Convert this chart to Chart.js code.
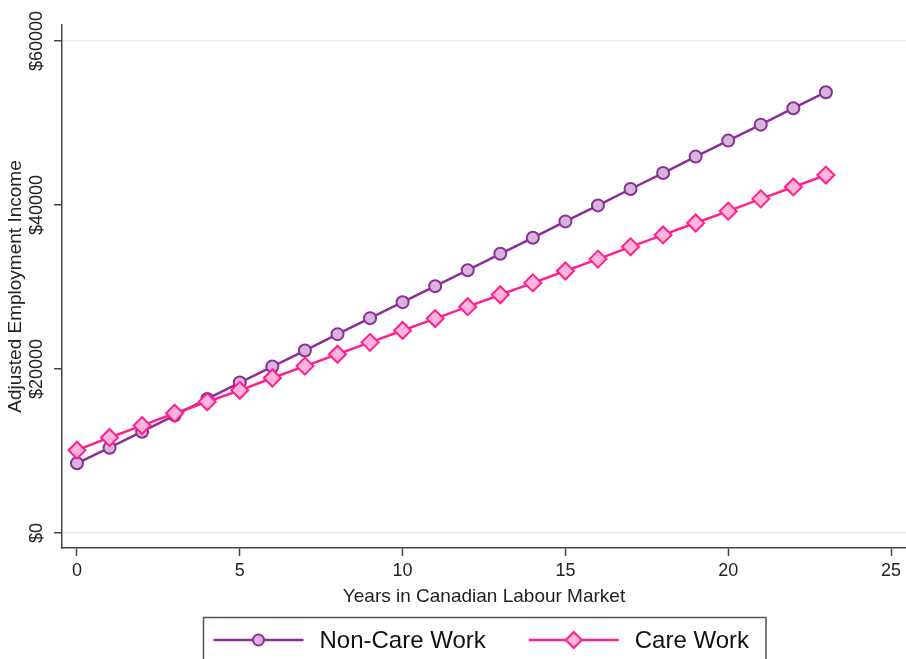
<!DOCTYPE html>
<html lang="en">
<head>
<meta charset="UTF-8">
<title>Adjusted Employment Income by Years in Canadian Labour Market</title>
<script src="https://cdn.jsdelivr.net/npm/chart.js@4.4.1/dist/chart.umd.min.js"></script>
<style>
  html, body { margin: 0; padding: 0; background: #fff; }
  #wrap { width: 906px; height: 659px; }
</style>
</head>
<body>
<div id="wrap"><canvas id="incomeChart" width="906" height="659"></canvas></div>
<script>
    // Years in the labour market (x values)
    var years = [0, 1, 2, 3, 4, 5, 6, 7, 8, 9, 10, 11, 12, 13, 14, 15, 16, 17, 18, 19, 20, 21, 22, 23];

    // Adjusted employment income
    var nonCareWork = [8500, 10400, 12350, 14350, 16350, 18350, 20300, 22250, 24250, 26200, 28150, 30100,
                       32050, 34050, 36000, 38000, 39950, 41950, 43900, 45900, 47850, 49800, 51800, 53750];
    var careWork = [10100, 11650, 13100, 14600, 16000, 17400, 18900, 20350, 21800, 23250, 24700, 26150,
                    27600, 29050, 30500, 31950, 33400, 34900, 36350, 37800, 39250, 40750, 42200, 43650];

    // Tick labels
    var xTicks = [0, 5, 10, 15, 20, 25];
    var yTicks = [0, 20000, 40000, 60000];
    var yGridAt = [0, 60000];

    var seriesNames = ['Non-Care Work', 'Care Work'];

    var font = '"Liberation Sans", Arial, sans-serif';
    var purple = '#8c2d98', purpleFill = '#d8b4da';
    var pink = '#ff1f8f', pinkFill = '#ffb5da';

    function toPoints(xs, ys) {
        return xs.map(function(x, i) { return {x: x, y: ys[i]}; });
    }

    function drawMarker(ctx, style, x, y, r, fill, stroke, w) {
        ctx.beginPath();
        if (style === 'circle') {
            ctx.arc(x, y, r, 0, Math.PI * 2);
        } else {
            ctx.moveTo(x, y - r);
            ctx.lineTo(x + r, y);
            ctx.lineTo(x, y + r);
            ctx.lineTo(x - r, y);
            ctx.closePath();
        }
        ctx.fillStyle = fill;
        ctx.fill();
        ctx.lineWidth = w;
        ctx.strokeStyle = stroke;
        ctx.stroke();
    }

    // Boxed legend under the x axis title, centred on the plot region
    var boxedLegend = {
        id: 'boxedLegend',
        afterDraw: function(chart) {
            var ctx = chart.ctx, area = chart.chartArea;
            var items = [
                {label: seriesNames[0], style: 'circle', r: 5.5, color: purple, fill: purpleFill},
                {label: seriesNames[1], style: 'diamond', r: 8, color: pink, fill: pinkFill}
            ];
            var sample = 90, gapText = 16, gapItem = 43, padL = 10, padR = 17;
            ctx.save();
            ctx.font = '24px ' + font;
            var total = padL + padR;
            items.forEach(function(it, i) {
                it.w = ctx.measureText(it.label).width;
                total += sample + gapText + it.w + (i ? gapItem : 0);
            });
            var left = Math.round((area.left + area.right) / 2 - total / 2) + 0.5;
            var top = area.bottom + 69.5;
            var cy = area.bottom + 92;
            ctx.strokeStyle = '#555';
            ctx.lineWidth = 1.5;
            ctx.strokeRect(left, top, total, 80);
            var x = left + padL;
            items.forEach(function(it, i) {
                if (i) x += gapItem;
                ctx.strokeStyle = it.color;
                ctx.lineWidth = 2.5;
                ctx.beginPath();
                ctx.moveTo(x, cy);
                ctx.lineTo(x + sample, cy);
                ctx.stroke();
                drawMarker(ctx, it.style, x + sample / 2, cy, it.r, it.fill, it.color, 2);
                ctx.fillStyle = '#111';
                ctx.textBaseline = 'middle';
                ctx.textAlign = 'left';
                ctx.fillText(it.label, x + sample + gapText, cy + 1);
                x += sample + gapText + it.w;
            });
            ctx.restore();
        }
    };

    var ctx = document.getElementById('incomeChart');
    var incomeChart = new Chart(ctx, {
        type: 'line',
        data: {
            datasets: [{
                label: seriesNames[0],
                data: toPoints(years, nonCareWork),
                borderColor: purple,
                backgroundColor: purpleFill,
                borderWidth: 2.5,
                pointStyle: 'circle',
                pointRadius: 6,
                pointBorderWidth: 2,
                pointBorderColor: purple,
                pointBackgroundColor: purpleFill,
                order: 1
            }, {
                label: seriesNames[1],
                data: toPoints(years, careWork),
                borderColor: pink,
                backgroundColor: pinkFill,
                borderWidth: 2.5,
                pointStyle: 'rectRot',
                pointRadius: 8.5,
                pointBorderWidth: 2,
                pointBorderColor: pink,
                pointBackgroundColor: pinkFill,
                order: 0
            }]
        },
        options: {
            responsive: false,
            animation: false,
            devicePixelRatio: 1,
            layout: {
                autoPadding: false,
                padding: { top: 25, right: 0, bottom: 51, left: 0 }
            },
            plugins: {
                legend: { display: false },
                tooltip: { enabled: false }
            },
            scales: {
                x: {
                    type: 'linear',
                    min: -0.46,
                    max: 25.46,
                    afterBuildTicks: function(scale) {
                        scale.ticks = xTicks.map(function(v) { return {value: v}; });
                    },
                    afterFit: function(scale) {
                        scale.height = 60;
                    },
                    grid: {
                        drawOnChartArea: false,
                        tickLength: 8,
                        tickColor: '#444',
                        tickWidth: 1.5
                    },
                    border: { color: '#444', width: 1.5 },
                    ticks: {
                        color: '#222',
                        font: { family: font, size: 18 },
                        padding: 4,
                        maxRotation: 0
                    },
                    title: {
                        display: true,
                        text: 'Years in Canadian Labour Market',
                        color: '#222',
                        font: { family: font, size: 19 },
                        padding: { top: 1, bottom: 0 }
                    }
                },
                y: {
                    type: 'linear',
                    min: -1830,
                    max: 61950,
                    afterBuildTicks: function(scale) {
                        scale.ticks = yTicks.map(function(v) { return {value: v}; });
                    },
                    afterFit: function(scale) {
                        scale.width = 62;
                    },
                    grid: {
                        color: function(c) {
                            return c.tick && yGridAt.indexOf(c.tick.value) >= 0 ? '#e4eef1' : 'rgba(0,0,0,0)';
                        },
                        lineWidth: 1.5,
                        tickLength: 8,
                        tickColor: '#444',
                        tickWidth: 1.5
                    },
                    border: { color: '#444', width: 1.5 },
                    ticks: {
                        color: '#222',
                        font: { family: font, size: 18 },
                        minRotation: 90,
                        maxRotation: 90,
                        crossAlign: 'center',
                        padding: -13,
                        callback: function(v) { return '$' + v; }
                    },
                    title: {
                        display: true,
                        text: 'Adjusted Employment Income',
                        color: '#222',
                        font: { family: font, size: 19 },
                        padding: { top: 4, bottom: 0 }
                    }
                }
            }
        },
        plugins: [boxedLegend]
    });
</script>
</body>
</html>
